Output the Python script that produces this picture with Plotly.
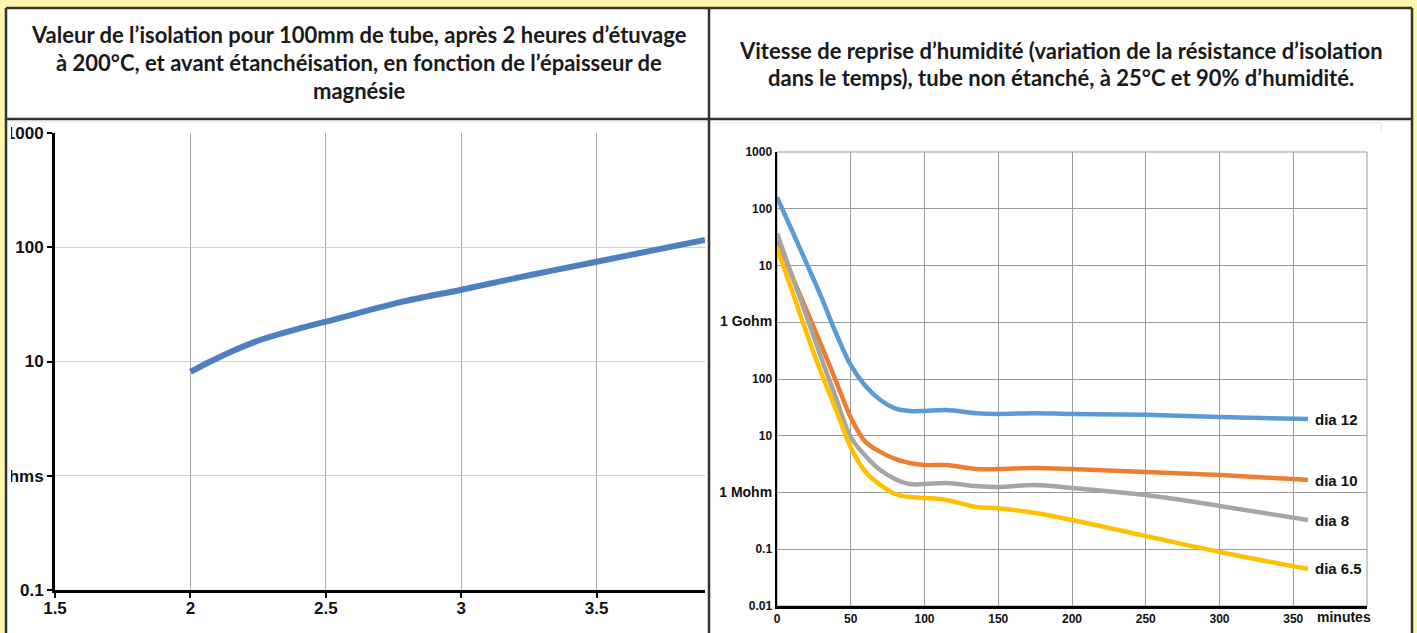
import plotly.graph_objects as go
import math

W, H = 1417, 633

# ---------------- data ----------------
# Left chart: insulation value (per 100 mm tube) vs magnesia thickness
mgo_thickness = [2.0, 2.07, 2.15, 2.26, 2.4, 2.5, 2.78, 3.0, 3.26, 3.5, 3.9]
insulation_value = [8.1, 9.9, 12.2, 15.5, 19.4, 22.3, 33.3, 42.5, 57.5, 74.7, 116]
left_x_ticks = [1.5, 2, 2.5, 3, 3.5]
left_y_ticks = [0.1, 1, 10, 100, 1000]
left_y_labels = ["0.1", "1 Gohms", "10", "100", "1000"]

# Right chart: insulation resistance (Mohm) vs time (minutes)
minutes = [0, 10, 20, 30, 40, 50, 60, 70, 80, 90, 100, 115, 135, 150, 175, 200, 250, 300, 360]
dia_12 = [160000, 42300, 11000, 2790, 640, 175, 75, 42.6, 30.5, 27.3, 27.3, 28.4, 25, 24.2, 25, 24.2, 23.4, 21.4, 19.7]
dia_10 = [30500, 6800, 1640, 397, 92, 21, 7.8, 5.2, 3.9, 3.31, 3.05, 3.05, 2.6, 2.59, 2.70, 2.59, 2.30, 2.03, 1.66]
dia_8 = [37000, 6800, 1290, 234, 46, 9.5, 4.4, 2.49, 1.73, 1.41, 1.41, 1.47, 1.30, 1.25, 1.36, 1.20, 0.90, 0.58, 0.327]
dia_6_5 = [20300, 3700, 647, 128, 28.4, 6.3, 2.30, 1.36, 0.94, 0.83, 0.80, 0.74, 0.555, 0.53, 0.435, 0.327, 0.171, 0.0896, 0.0449]
series_names = ["dia 12", "dia 10", "dia 8", "dia 6.5"]
series_values = [dia_12, dia_10, dia_8, dia_6_5]
series_colors = ["#5B9BD5", "#ED7D31", "#A5A5A5", "#FFC000"]
right_x_ticks = [0, 50, 100, 150, 200, 250, 300, 350, 400]
right_x_labels = ["0", "50", "100", "150", "200", "250", "300", "350", ""]
right_y_ticks = [0.01, 0.1, 1, 10, 100, 1000, 1e4, 1e5, 1e6]
right_y_labels = ["0.01", "0.1", "<span style='font-size:14px'>1 Mohm</span>", "10", "100",
                  "<span style='font-size:14px'>1 Gohm</span>", "10", "100", "1000"]

header_left = ["Valeur de l’isolation pour 100mm de tube, après 2 heures d’étuvage",
               "à 200°C, et avant étanchéisation, en fonction de l’épaisseur de",
               "magnésie"]
header_right = ["Vitesse de reprise d’humidité (variation de la résistance d’isolation",
                "dans le temps), tube non étanché, à 25°C et 90% d’humidité."]

# ---------------- helpers ----------------
def fx(p):
    return p / W

def fy(p):
    return 1 - p / H

YELLOW = "#FFF5AD"
BORDER = "#333333"
TICKFONT = "Liberation Sans, Arial, sans-serif"
HEADFONT = dict(family="Lato, sans-serif", size=22, color="#1a1a1a", weight="bold")

fig = go.Figure()

fig.add_trace(go.Scatter(
    x=mgo_thickness, y=insulation_value, mode="lines",
    line=dict(color="#4F7FC0", width=6, shape="spline", smoothing=1.0),
    xaxis="x", yaxis="y", showlegend=False, hoverinfo="skip"))

for name, vals, col in zip(series_names, series_values, series_colors):
    fig.add_trace(go.Scatter(
        x=minutes, y=vals, mode="lines", name=name,
        line=dict(color=col, width=4.5, shape="spline", smoothing=1.0),
        xaxis="x2", yaxis="y2", showlegend=False, hoverinfo="skip"))

shapes = []
# white table body
shapes.append(dict(type="rect", xref="paper", yref="paper", x0=fx(6), x1=fx(1412), y0=fy(645), y1=fy(8),
                   fillcolor="white", line=dict(width=0), layer="below"))
# faint top edges of the embedded pictures
shapes.append(dict(type="line", xref="paper", yref="paper", x0=fx(10), x1=fx(706), y0=fy(122), y1=fy(122),
                   line=dict(color="#e6e6e6", width=1), layer="below"))
shapes.append(dict(type="line", xref="paper", yref="paper", x0=fx(714), x1=fx(1381), y0=fy(123), y1=fy(123),
                   line=dict(color="#e6e6e6", width=1), layer="below"))
shapes.append(dict(type="line", xref="paper", yref="paper", x0=fx(1381), x1=fx(1381), y0=fy(123), y1=fy(131),
                   line=dict(color="#e6e6e6", width=1), layer="below"))
# right chart frame (top / right)
shapes.append(dict(type="rect", xref="x2 domain", yref="y2 domain", x0=0, x1=1, y0=0, y1=1,
                   fillcolor="rgba(0,0,0,0)", line=dict(color="#999999", width=1), layer="below"))
# crop of left picture (hides the part of the labels beyond the cell)
shapes.append(dict(type="rect", xref="paper", yref="paper", x0=0, x1=fx(11), y0=fy(645), y1=fy(119),
                   fillcolor="white", line=dict(width=0), layer="above"))
shapes.append(dict(type="rect", xref="paper", yref="paper", x0=0, x1=fx(5), y0=0, y1=1,
                   fillcolor=YELLOW, line=dict(width=0), layer="above"))
# table borders
for x0, y0, x1, y1 in [(6, 8, 1412, 8), (6, 8, 6, 645), (1412, 8, 1412, 645),
                       (6, 119, 1412, 119), (709, 8, 709, 645)]:
    shapes.append(dict(type="line", xref="paper", yref="paper", x0=fx(x0), x1=fx(x1), y0=fy(y0), y1=fy(y1),
                       line=dict(color=BORDER, width=2.5), layer="above"))

annotations = []
for i, line in enumerate(header_left):
    annotations.append(dict(text=line, xref="paper", yref="paper", x=fx(359), y=fy(35 + 27.5 * i),
                            xanchor="center", yanchor="middle", showarrow=False, font=HEADFONT))
for i, line in enumerate(header_right):
    annotations.append(dict(text=line, xref="paper", yref="paper", x=fx(1061), y=fy(50 + 27.5 * i),
                            xanchor="center", yanchor="middle", showarrow=False, font=HEADFONT))
for name, vals in zip(series_names, series_values):
    annotations.append(dict(text=name, xref="x2", yref="y2", x=363.5, y=math.log10(vals[-1]),
                            xanchor="left", yanchor="middle", showarrow=False,
                            font=dict(family=TICKFONT, size=15, color="#111", weight="bold")))
annotations.append(dict(text="minutes", xref="paper", yref="paper", x=fx(1344), y=fy(617),
                        xanchor="center", yanchor="middle", showarrow=False,
                        font=dict(family=TICKFONT, size=14, color="#111", weight="bold")))

fig.update_layout(
    template="none",
    width=W, height=H,
    margin=dict(l=0, r=0, t=0, b=0, pad=0),
    paper_bgcolor=YELLOW, plot_bgcolor="rgba(0,0,0,0)",
    showlegend=False,
    shapes=shapes, annotations=annotations,
    xaxis=dict(domain=[fx(55), fx(705)], range=[1.5, 3.9], tickmode="array", tickvals=left_x_ticks,
               showgrid=True, gridcolor="#a8a8a8", gridwidth=1, zeroline=False,
               showline=True, linecolor="black", linewidth=3,
               ticks="outside", ticklen=5, tickwidth=2, tickcolor="black", ticklabelstandoff=-4,
               tickfont=dict(family=TICKFONT, size=17, color="#111", weight="bold"),
               anchor="y", automargin=False, fixedrange=True),
    yaxis=dict(domain=[fy(590), fy(133)], type="log", range=[-1, 3], tickmode="array",
               tickvals=left_y_ticks, ticktext=left_y_labels,
               showgrid=True, gridcolor="#d0d0d0", gridwidth=1, zeroline=False,
               showline=True, linecolor="black", linewidth=3,
               ticks="outside", ticklen=5, tickwidth=2, tickcolor="black",
               tickfont=dict(family=TICKFONT, size=17, color="#111", weight="bold"),
               anchor="x", automargin=False, fixedrange=True),
    xaxis2=dict(domain=[fx(777), fx(1367)], range=[0, 400], tickmode="array",
                tickvals=right_x_ticks, ticktext=right_x_labels,
                showgrid=True, gridcolor="#9a9a9a", gridwidth=1, zeroline=False,
                showline=True, linecolor="black", linewidth=2.5, ticks="",
                tickfont=dict(family=TICKFONT, size=12, color="#111", weight="bold"),
                anchor="y2", automargin=False, fixedrange=True),
    yaxis2=dict(domain=[fy(606), fy(152)], type="log", range=[-2, 6], tickmode="array",
                tickvals=right_y_ticks, ticktext=right_y_labels,
                showgrid=True, gridcolor="#9a9a9a", gridwidth=1, zeroline=False,
                showline=True, linecolor="black", linewidth=2.5, ticks="",
                tickfont=dict(family=TICKFONT, size=12, color="#111", weight="bold"),
                anchor="x2", automargin=False, fixedrange=True),
)

fig.write_html(
    "out.html",
    config={"displayModeBar": False, "staticPlot": True},
    post_script="document.body.style.margin='0';document.body.style.overflow='hidden';"
                "document.body.style.background='" + YELLOW + "';",
)
